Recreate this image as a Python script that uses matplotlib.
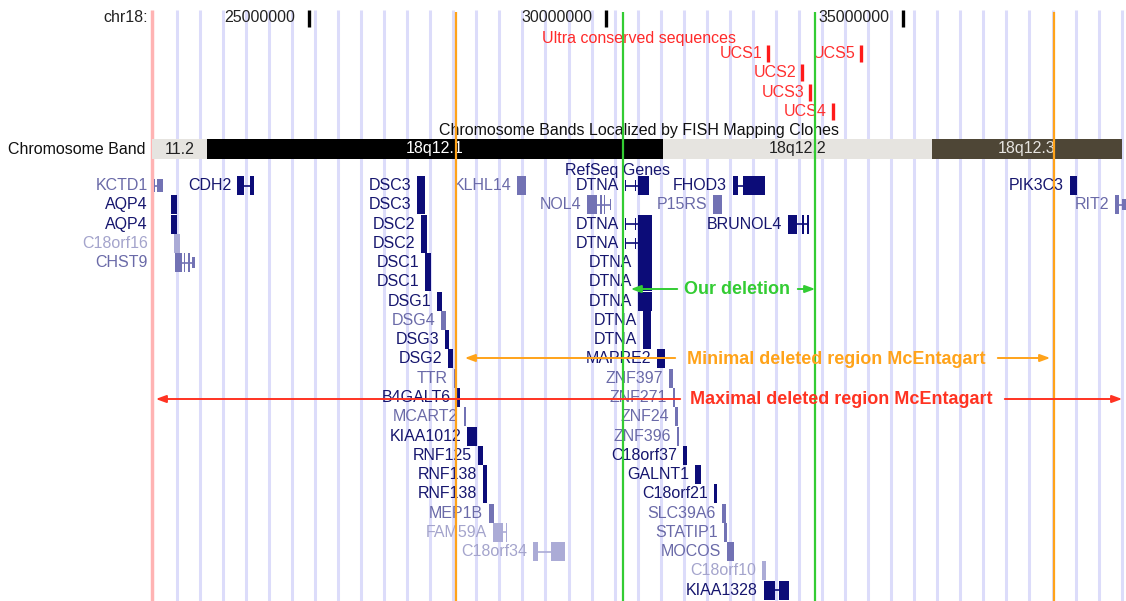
import numpy as np
import matplotlib.pyplot as plt

plt.rcParams["font.family"] = ["Liberation Sans", "DejaVu Sans"]

# ruler (positions in Mb on chr18)
tick_pos = [25.0, 30.0, 35.0]
tick_labels = ["25000000", "30000000", "35000000"]

# cytogenetic bands
band_names = ["11.2", "18q12.1", "18q12.2", "18q12.3"]
band_start = [22.357, 23.283, 30.960, 35.488]
band_end = [23.283, 30.960, 35.488, 38.687]
band_fill = ["#e6e4e0", "#000000", "#e6e4e0", "#4e4636"]
band_text = ["#222222", "#ffffff", "#222222", "#e6e4e0"]

# ultra conserved elements
ucs_names = ["UCS1", "UCS2", "UCS3", "UCS4", "UCS5"]
ucs_pos = [32.727, 33.300, 33.434, 33.822, 34.293]
ucs_row = [0, 1, 2, 3, 0]

# RefSeq genes: name, display row, shade (0 dark, 1 mid, 2 light), blocks (start, end, height)
gene_names = [
    "KCTD1", "CDH2", "DSC3", "KLHL14", "DTNA", "FHOD3", "PIK3C3",
    "AQP4", "DSC3", "NOL4", "P15RS", "RIT2",
    "AQP4", "DSC2", "DTNA", "BRUNOL4",
    "C18orf16", "DSC2", "DTNA",
    "CHST9", "DSC1", "DTNA",
    "DSC1", "DTNA",
    "DSG1", "DTNA",
    "DSG4", "DTNA",
    "DSG3", "DTNA",
    "DSG2", "MAPRE2",
    "TTR", "ZNF397",
    "B4GALT6", "ZNF271",
    "MCART2", "ZNF24",
    "KIAA1012", "ZNF396",
    "RNF125", "C18orf37",
    "RNF138", "GALNT1",
    "RNF138", "C18orf21",
    "MEP1B", "SLC39A6",
    "FAM59A", "STATIP1",
    "C18orf34", "MOCOS",
    "C18orf10",
    "KIAA1328",
]
gene_rows = [
    0, 0, 0, 0, 0, 0, 0,
    1, 1, 1, 1, 1,
    2, 2, 2, 2,
    3, 3, 3,
    4, 4, 4,
    5, 5,
    6, 6,
    7, 7,
    8, 8,
    9, 9,
    10, 10,
    11, 11,
    12, 12,
    13, 13,
    14, 14,
    15, 15,
    16, 16,
    17, 17,
    18, 18,
    19, 19,
    20,
    21,
]
gene_shade = [
    1, 0, 0, 1, 0, 0, 0,
    0, 0, 1, 1, 1,
    0, 0, 0, 0,
    2, 0, 0,
    1, 0, 0,
    0, 0,
    0, 0,
    1, 0,
    0, 0,
    0, 0,
    1, 1,
    0, 1,
    1, 1,
    0, 1,
    0, 0,
    0, 0,
    0, 0,
    1, 1,
    2, 1,
    2, 1,
    2,
    0,
]
dtna_long = [(30.320, 30.337, 0.6), (30.490, 30.510, 0.6), (30.539, 30.774, 1)]
gene_blocks = [
    [(22.391, 22.408, 0.7), (22.440, 22.542, 0.7)],
    [(23.788, 23.906, 1), (24.007, 24.074, 1)],
    [(26.818, 26.953, 1)],
    [(28.502, 28.653, 1)],
    [(30.320, 30.337, 0.6), (30.490, 30.510, 0.6), (30.539, 30.724, 1)],
    [(32.138, 32.222, 1), (32.306, 32.677, 1)],
    [(37.811, 37.929, 1)],
    [(22.677, 22.778, 1)],
    [(26.818, 26.953, 1)],
    [(29.680, 29.848, 1), (29.899, 29.930, 1), (29.965, 29.990, 1), (30.060, 30.080, 0.6)],
    [(31.801, 31.953, 1)],
    [(38.569, 38.640, 1), (38.680, 38.754, 0.6)],
    [(22.677, 22.778, 1)],
    [(26.886, 26.987, 1)],
    dtna_long,
    [(33.064, 33.215, 1), (33.300, 33.330, 1), (33.390, 33.420, 1)],
    [(22.727, 22.828, 1)],
    [(26.886, 26.987, 1)],
    dtna_long,
    [(22.744, 22.861, 1), (22.890, 22.920, 1), (22.960, 22.990, 1), (23.030, 23.081, 0.6)],
    [(26.953, 27.054, 1)],
    [(30.539, 30.774, 1)],
    [(26.953, 27.054, 1)],
    [(30.539, 30.774, 1)],
    [(27.155, 27.239, 1)],
    [(30.539, 30.774, 1)],
    [(27.222, 27.306, 1)],
    [(30.623, 30.758, 1)],
    [(27.290, 27.357, 1)],
    [(30.623, 30.758, 1)],
    [(27.340, 27.424, 1)],
    [(30.859, 30.993, 1)],
    [(27.441, 27.475, 1)],
    [(31.061, 31.128, 1)],
    [(27.492, 27.542, 1)],
    [(31.128, 31.162, 1)],
    [(27.609, 27.643, 1)],
    [(31.162, 31.212, 1)],
    [(27.660, 27.828, 1)],
    [(31.195, 31.229, 1)],
    [(27.845, 27.929, 1)],
    [(31.296, 31.364, 1)],
    [(27.929, 27.997, 1)],
    [(31.498, 31.599, 1)],
    [(27.929, 27.997, 1)],
    [(31.818, 31.869, 1)],
    [(28.030, 28.114, 1)],
    [(31.953, 32.020, 1)],
    [(28.098, 28.266, 1), (28.316, 28.333, 1)],
    [(31.987, 32.037, 1)],
    [(28.771, 28.855, 1), (29.074, 29.310, 1)],
    [(32.037, 32.155, 1)],
    [(32.626, 32.694, 1)],
    [(32.660, 32.845, 1), (32.912, 33.081, 1)],
]

# deletion boundaries
minimal_bounds = [27.475, 37.540]
our_bounds = [30.290, 33.520]
view_start, view_end = 22.357, 38.754

shade_bar = ["#0c0c78", "#7272b4", "#ababd6"]
shade_txt = ["#16166e", "#6a6aa8", "#a4a4cc"]

fig = plt.figure(figsize=(11.26, 6.01), dpi=100)
ax = fig.add_axes([0, 0, 1, 1])
px_per_mb = 59.4
ax.set_xlim(25.0 - 309 / px_per_mb, 25.0 + (1126 - 309) / px_per_mb)
ax.set_ylim(601, 0)
ax.axis("off")

# browser guide lines
grid_x = np.arange(22.773, view_end, 0.388)
ax.vlines(grid_x, 10, 601, color="#dcdcfa", lw=2.2, zorder=0)
ax.vlines(view_start, 10, 601, color="#ffb3b3", lw=2.5, zorder=1)

# ruler
ax.text(22.29, 18, "chr18:", ha="right", va="center", fontsize=11.5, color="#222222")
for p, lab in zip(tick_pos, tick_labels):
    ax.vlines(p, 10, 27, color="black", lw=2.4, zorder=3)
    ax.text(p - 0.235, 18, lab, ha="right", va="center", fontsize=11.5, color="#222222")

# ultra conserved sequences
ax.text(30.556, 39, "Ultra conserved sequences", ha="center", va="center",
        fontsize=11.5, color="#ff2a2a")
for name, p, r in zip(ucs_names, ucs_pos, ucs_row):
    yc = 53.5 + 19.3 * r
    ax.vlines(p, yc - 8.5, yc + 8.5, color="#ff1a1a", lw=2.4, zorder=3)
    ax.text(p - 0.1, yc, name, ha="right", va="center", fontsize=11.5, color="#ff3030")

# chromosome bands
ax.text(30.556, 131, "Chromosome Bands Localized by FISH Mapping Clones",
        ha="center", va="center", fontsize=11.5, color="#111111", zorder=3)
ax.text(0.007, 149, "Chromosome Band", transform=ax.get_yaxis_transform(),
        ha="left", va="center", fontsize=11.5, color="#111111")
ax.barh([148.5] * 4, np.subtract(band_end, band_start), left=band_start,
        height=20, color=band_fill, zorder=2)
for name, s, e, c in zip(band_names, band_start, band_end, band_text):
    ax.text((s + e) / 2, 149, name, ha="center", va="center",
            fontsize=11.5, color=c, zorder=3)

# gene track
ax.text(30.20, 170, "RefSeq Genes", ha="center", va="center",
        fontsize=11.5, color="#16166e", zorder=3)
for name, r, sh, blocks in zip(gene_names, gene_rows, gene_shade, gene_blocks):
    yc = 185.5 + 19.27 * r
    start = min(b[0] for b in blocks)
    end = max(b[1] for b in blocks)
    if len(blocks) > 1:
        ax.hlines(yc, start, end, color=shade_bar[sh], lw=1.2, zorder=3)
    for s, e, h in blocks:
        ax.barh(yc, e - s, left=s, height=19 * h, color=shade_bar[sh],
                linewidth=0, zorder=3)
    lx = start - 0.1 if start > 23.0 else 22.29
    ax.text(lx, yc, name, ha="right", va="center", fontsize=11.5,
            color=shade_txt[sh], zorder=3)

# deletion boundaries
ax.vlines(minimal_bounds, 12, 601, color="#ffa31a", lw=1.6, zorder=4)
ax.vlines(our_bounds, 12, 601, color="#33cc33", lw=1.6, zorder=4)


def region_arrow(y, left_tip, left_end, right_start, right_tip, centre, label, color, both):
    head = dict(arrowstyle="-|>,head_length=0.6,head_width=0.22", color=color, lw=1.4)
    ax.annotate("", xy=(left_tip, y), xytext=(left_end, y), arrowprops=head, zorder=5)
    ax.annotate("", xy=(right_tip, y), xytext=(right_start, y), arrowprops=head, zorder=5)
    ax.text(centre, y + 1, label, ha="center", va="center", fontsize=13,
            fontweight="bold", color=color, zorder=5)


region_arrow(289, 30.370, 31.246, 33.182, 33.569, 32.205, "Our deletion", "#33cc33", False)
region_arrow(358, 27.576, 31.212, 36.549, 37.525, 33.872,
             "Minimal deleted region McEntagart", "#ffa31a", False)
region_arrow(399, 22.374, 31.296, 36.667, 38.737, 33.956,
             "Maximal deleted region McEntagart", "#ff3322", True)

fig.savefig("out.png", dpi=100)
